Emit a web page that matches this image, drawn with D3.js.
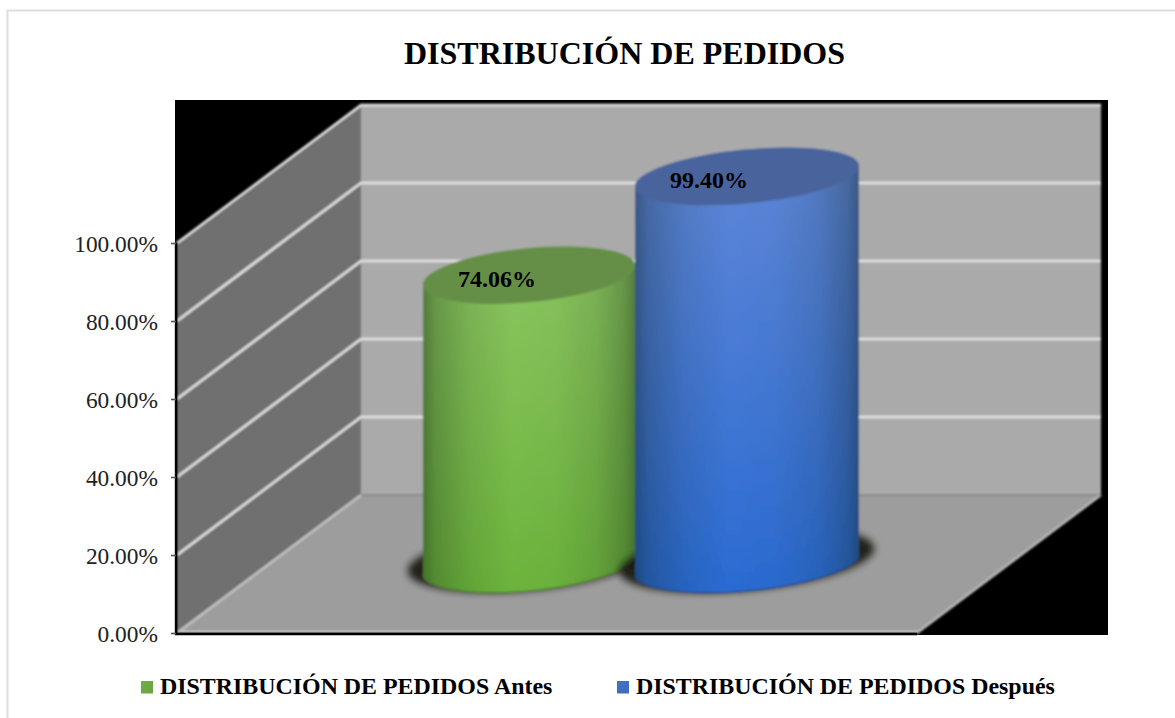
<!DOCTYPE html>
<html><head><meta charset="utf-8">
<script src="https://cdnjs.cloudflare.com/ajax/libs/d3/7.8.5/d3.min.js"></script>
<style>html,body{margin:0;padding:0;background:#fff;overflow:hidden}svg{display:block}text{font-family:"Liberation Serif",serif}</style>
</head><body><svg id="c" width="1175" height="718"></svg>
<script>
const chartTitle = "DISTRIBUCIÓN DE PEDIDOS";
const categories = ["DISTRIBUCIÓN DE PEDIDOS Antes", "DISTRIBUCIÓN DE PEDIDOS Después"];
const values = [0.7406, 0.9940];
const valueLabels = ["74.06%", "99.40%"];
const tickValues = [0, 0.2, 0.4, 0.6, 0.8, 1];
const tickLabels = ["0.00%", "20.00%", "40.00%", "60.00%", "80.00%", "100.00%"];

const svg = d3.select("#c");
const W = 1175, H = 718;
const fx = 177, bx = 361, rx = 1101, dx = bx - fx, dy = 138;
const y = d3.scaleLinear().domain([0, 1]).range([633, 243]);
const edge = d3.scaleLinear().domain([0, 1, 2]).range([423, 635, 859]);
const P = a => a.map(p => p.join(",")).join(" ");

// frame
svg.append("path").attr("d", `M7.5,${H}V10.5H${W}`).attr("fill", "none").attr("stroke", "#dedede").attr("stroke-width", 2);

const defs = svg.append("defs");
defs.append("filter").attr("id", "soft").attr("x", "-5%").attr("y", "-5%").attr("width", "110%").attr("height", "110%")
  .append("feGaussianBlur").attr("stdDeviation", 0.8);
defs.append("filter").attr("id", "shadow").attr("x", "-20%").attr("y", "-40%").attr("width", "140%").attr("height", "180%")
  .append("feGaussianBlur").attr("stdDeviation", 3.5);

const palette = [
  {top:"#658f46", hi:"#8cc662", lo:"#6cb33c", rim:"#4e7a2c", key:"#70ad47"},
  {top:"#48639c", hi:"#6188d8", lo:"#2a6bd2", rim:"#22487f", key:"#4472c4"}
];
palette.forEach((c, i) => {
  const g = defs.append("linearGradient").attr("id", "v" + i).attr("x1", 0).attr("x2", 0).attr("y1", 0).attr("y2", 1);
  g.append("stop").attr("offset", 0).attr("stop-color", c.hi);
  g.append("stop").attr("offset", 1).attr("stop-color", c.lo);
  const k = defs.append("linearGradient").attr("id", "k" + i).attr("x1", 0).attr("x2", 1).attr("y1", 0).attr("y2", 0);
  [[0, 0.42], [0.06, 0.26], [0.22, 0.10], [0.42, 0], [0.62, 0.02], [0.82, 0.12], [0.95, 0.28], [1, 0.42]].forEach(s =>
    k.append("stop").attr("offset", s[0]).attr("stop-color", "#0c1a10").attr("stop-opacity", s[1]));
  const l = defs.append("linearGradient").attr("id", "l" + i).attr("x1", 0).attr("x2", 1).attr("y1", 0).attr("y2", 1);
  l.append("stop").attr("offset", 0).attr("stop-color", c.key);
  l.append("stop").attr("offset", 1).attr("stop-color", d3.color(c.key).darker(0.15));
});

// black backdrop
svg.append("rect").attr("x", 175).attr("y", 100).attr("width", 933).attr("height", 535).attr("fill", "#000");

const plot = svg.append("g").attr("filter", "url(#soft)");
// back wall
plot.append("rect").attr("x", bx).attr("y", y(1) - dy).attr("width", rx - bx).attr("height", y(0) - y(1)).attr("fill", "#aaaaaa");
// left wall
plot.append("polygon").attr("points", P([[fx, y(0)], [bx, y(0) - dy], [bx, y(1) - dy], [fx, y(1)]])).attr("fill", "#6f6f6f");
// floor
plot.append("polygon").attr("points", P([[fx, y(0)], [rx - dx, y(0)], [rx, y(0) - dy], [bx, y(0) - dy]])).attr("fill", "#9d9d9d");
plot.append("polyline").attr("points", P([[rx - dx, y(0)], [rx, y(0) - dy]])).attr("fill", "none").attr("stroke", "#bcbcbc").attr("stroke-width", 2.4);
plot.append("line").attr("x1", fx).attr("x2", rx - dx).attr("y1", y(0) - 1).attr("y2", y(0) - 1).attr("stroke", "#d4d4d4").attr("stroke-width", 2);
plot.append("line").attr("x1", bx).attr("x2", rx).attr("y1", y(0) - dy).attr("y2", y(0) - dy).attr("stroke", "#838383").attr("stroke-width", 1.4);
plot.append("line").attr("x1", fx).attr("x2", bx).attr("y1", y(0)).attr("y2", y(0) - dy).attr("stroke", "#c4c4c4").attr("stroke-width", 2.4);

// gridlines
tickValues.forEach(t => {
  if (t === 0) return;
  plot.append("polyline").attr("points", P([[fx, y(t)], [bx, y(t) - dy], [rx, y(t) - dy]]))
    .attr("fill", "none").attr("stroke", "#e4e4e4").attr("stroke-width", 2.6);
});

// cylinders
const tilt = 5.5;
const ry = 27, sin = Math.sin(tilt * Math.PI / 180), cos = Math.cos(tilt * Math.PI / 180);
const cyl = plot.selectAll(".cyl").data(values).join("g").attr("class", "cyl");
cyl.each(function (v, i) {
  const g = d3.select(this);
  const x0 = edge(i), x1 = edge(i + 1), cx = (x0 + x1) / 2, r = (x1 - x0) / 2;
  const rr = r / cos;
  const yb = y(0) - dy / 2, yt = y(v) - dy / 2;
  const off = r * Math.tan(tilt * Math.PI / 180);
  g.append("ellipse").attr("cx", cx).attr("cy", yb - 4).attr("rx", r + 16).attr("ry", ry + 3)
    .attr("transform", `rotate(${-tilt} ${cx} ${yb - 4})`).attr("fill", "#15120f").attr("opacity", 0.9).attr("filter", "url(#shadow)");
  const side = `M${x0},${yt + off}L${x0},${yb + off}A${rr},${ry},${-tilt},0,0,${x1},${yb - off}L${x1},${yt - off}A${rr},${ry},${-tilt},0,0,${x0},${yt + off}Z`;
  g.append("path").attr("d", side).attr("fill", `url(#v${i})`);
  g.append("path").attr("d", side).attr("fill", `url(#k${i})`);
  g.append("path").attr("d", `M${x0},${yb + off}A${rr},${ry},${-tilt},0,0,${x1},${yb - off}`)
    .attr("fill", "none").attr("stroke", palette[i].rim).attr("stroke-width", 1.5);
  g.append("ellipse").attr("cx", cx).attr("cy", yt).attr("rx", rr).attr("ry", ry)
    .attr("transform", `rotate(${-tilt} ${cx} ${yt})`).attr("fill", palette[i].top);
});

// black axis lines
svg.append("path").attr("d", `M176,${y(1)}V634H${rx - dx}`).attr("fill", "none").attr("stroke", "#000").attr("stroke-width", 2.4);

// y axis
const ax = svg.append("g").attr("transform", `translate(${fx},0)`)
  .call(d3.axisLeft(y).tickValues(tickValues).tickSize(5).tickPadding(14).tickFormat((d, i) => tickLabels[i]));
ax.select(".domain").remove();
ax.selectAll("line").attr("stroke", "#555").attr("stroke-width", 1.6).attr("transform", "translate(-1,0)");
ax.selectAll("text").attr("font-size", 23.4).attr("fill", "#222").attr("font-family", "Liberation Serif").attr("dy", "0.36em");

// value labels
svg.selectAll(".val").data(values).join("text").attr("class", "val")
  .attr("x", (d, i) => edge(i) + 74).attr("y", d => y(d) - dy / 2 + 11.5)
  .attr("text-anchor", "middle").attr("font-size", 24).attr("font-weight", "bold").attr("fill", "#000")
  .text((d, i) => valueLabels[i]);

// title
svg.append("text").attr("x", 624.5).attr("y", 64).attr("text-anchor", "middle")
  .attr("font-size", 32).attr("font-weight", "bold").attr("fill", "#000").text(chartTitle);

// legend
const legX = d3.scalePoint().domain(categories).range([141, 617]);
const leg = svg.selectAll(".leg").data(categories).join("g").attr("class", "leg")
  .attr("transform", d => `translate(${legX(d)},681)`);
leg.append("rect").attr("width", 12).attr("height", 12.5).attr("fill", (d, i) => `url(#l${i})`);
leg.append("text").attr("x", 19).attr("y", 13).attr("font-size", 23.9).attr("font-weight", "bold").attr("fill", "#000").text(d => d);
</script></body></html>
